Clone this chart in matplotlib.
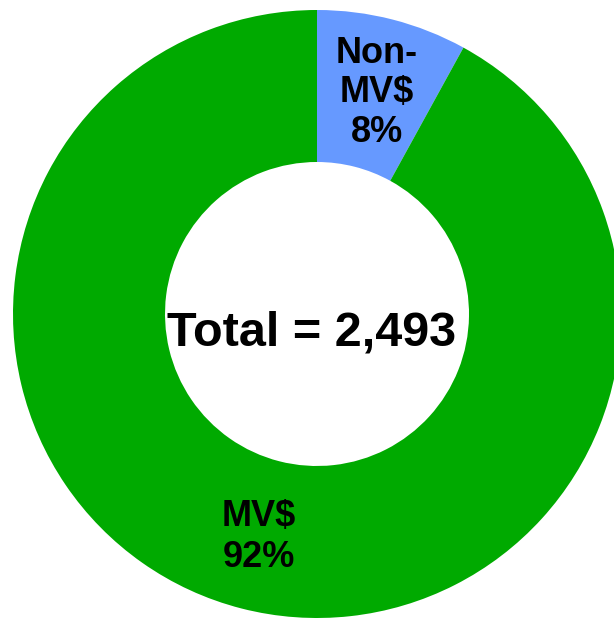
import matplotlib
matplotlib.use("Agg")
from matplotlib import pyplot as plt

labels = ["Non-\nMV$\n8%", "MV$\n92%"]
shares = [8, 92]
colors = ["#6699ff", "#00aa00"]
total_text = "Total = 2,493"

plt.rcParams['font.family'] = ['Liberation Sans', 'DejaVu Sans']

fig = plt.figure(figsize=(6.14, 6.18), dpi=100)
ax = fig.add_axes([0, 0, 1, 1])

wedges, _ = ax.pie(shares, colors=colors, startangle=90, counterclock=False,
                   radius=1.0, wedgeprops=dict(width=0.5, linewidth=0))

ax.set_aspect('auto')
ax.set_xlim(-317 / 304, 297 / 304)
ax.set_ylim(-1.0, 314 / 304)
ax.axis('off')

ax.text(0.196, 0.727, labels[0], ha='center', va='center', fontsize=26,
        fontweight='bold', linespacing=1.18)
ax.text(-0.19, -0.735, labels[1], ha='center', va='center', fontsize=26,
        fontweight='bold', linespacing=1.22)
ax.text(-0.018, -0.102, total_text, ha='center', va='baseline', fontsize=35,
        fontweight='bold')

fig.savefig("out.png", dpi=100)
